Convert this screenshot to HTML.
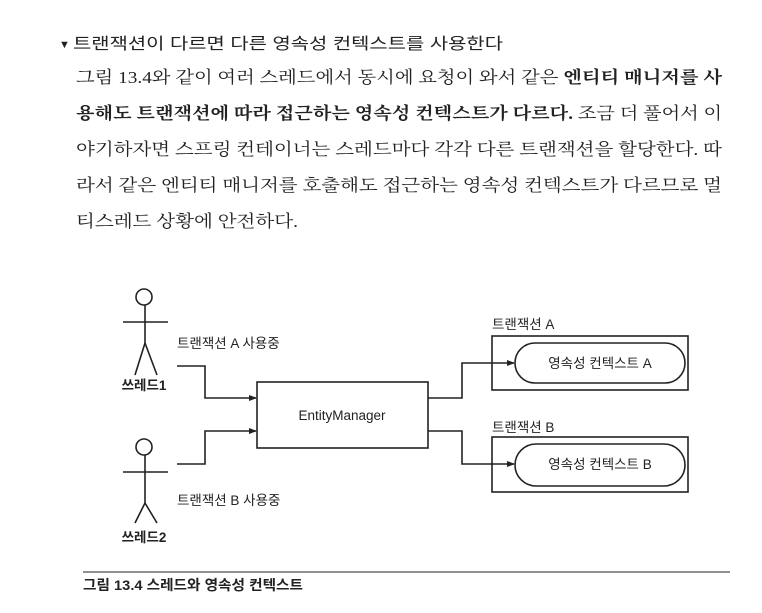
<!DOCTYPE html>
<html><head><meta charset="utf-8"><style>
html,body{margin:0;padding:0;background:#fff;}
svg{display:block;}
.p{font-family:"Liberation Serif","Noto Serif CJK SC",serif;font-size:17px;fill:#222;}
.s{font-family:"Liberation Sans","Noto Sans CJK KR",sans-serif;fill:#222;}
</style></head><body>
<svg width="762" height="613" viewBox="0 0 762 613" xmlns="http://www.w3.org/2000/svg">
<text x="59" y="48" class="s" font-size="11">▼</text>
<text x="73" y="49" class="s" font-size="16" textLength="430" lengthAdjust="spacingAndGlyphs">트랜잭션이 다르면 다른 영속성 컨텍스트를 사용한다</text>
<text x="76" y="83" class="p" textLength="646" lengthAdjust="spacingAndGlyphs">그림 13.4와 같이 여러 스레드에서 동시에 요청이 와서 같은 <tspan font-weight="bold">엔티티 매니저를 사</tspan></text>
<text x="76" y="119" class="p" textLength="646" lengthAdjust="spacingAndGlyphs"><tspan font-weight="bold">용해도 트랜잭션에 따라 접근하는 영속성 컨텍스트가 다르다.</tspan> 조금 더 풀어서 이</text>
<text x="76" y="155" class="p" textLength="646" lengthAdjust="spacingAndGlyphs">야기하자면 스프링 컨테이너는 스레드마다 각각 다른 트랜잭션을 할당한다. 따</text>
<text x="76" y="191" class="p" textLength="646" lengthAdjust="spacingAndGlyphs">라서 같은 엔티티 매니저를 호출해도 접근하는 영속성 컨텍스트가 다르므로 멀</text>
<text x="76" y="227" class="p" textLength="222" lengthAdjust="spacingAndGlyphs">티스레드 상황에 안전하다.</text>

<g stroke="#222" stroke-width="1.6" fill="none">
<circle cx="144" cy="297" r="8"/>
<line x1="123" y1="322" x2="168" y2="322"/>
<line x1="145" y1="305" x2="145" y2="343"/>
<line x1="145" y1="343" x2="135" y2="375"/>
<line x1="145" y1="343" x2="157" y2="375"/>
<circle cx="144" cy="447" r="8"/>
<line x1="123" y1="472" x2="168" y2="472"/>
<line x1="145" y1="455" x2="145" y2="503"/>
<line x1="145" y1="503" x2="135" y2="523"/>
<line x1="145" y1="503" x2="157" y2="523"/>
<polyline points="177,366 205,366 205,398 256,398"/>
<polyline points="177,464 205,464 205,431 256,431"/>
<rect x="257" y="382" width="171" height="66"/>
<polyline points="428,398 462,398 462,363 514,363"/>
<polyline points="428,431 462,431 462,464 514,464"/>
<rect x="492" y="336" width="196" height="54"/>
<rect x="515" y="343" width="170" height="40" rx="20"/>
<rect x="492" y="437" width="196" height="55"/>
<rect x="515" y="444" width="170" height="42" rx="21"/>
<line x1="83" y1="572" x2="730" y2="572" stroke-width="1"/>
</g>
<g fill="#222">
<polygon points="257,398 249,395 249,401"/>
<polygon points="257,431 249,428 249,434"/>
<polygon points="515,363 507,360 507,366"/>
<polygon points="515,464 507,461 507,467"/>
</g>
<g class="s" font-size="13.5">
<text x="144" y="390" text-anchor="middle" font-weight="bold">쓰레드1</text>
<text x="144" y="542" text-anchor="middle" font-weight="bold">쓰레드2</text>
<text x="177" y="348">트랜잭션 A 사용중</text>
<text x="177" y="505">트랜잭션 B 사용중</text>
<text x="342" y="420" text-anchor="middle">EntityManager</text>
<text x="492" y="329">트랜잭션 A</text>
<text x="492" y="432">트랜잭션 B</text>
<text x="600" y="368" text-anchor="middle">영속성 컨텍스트 A</text>
<text x="600" y="469" text-anchor="middle">영속성 컨텍스트 B</text>
<text x="83" y="590" font-weight="bold" font-size="14" textLength="220" lengthAdjust="spacingAndGlyphs">그림 13.4 스레드와 영속성 컨텍스트</text>
</g>
</svg>
</body></html>
